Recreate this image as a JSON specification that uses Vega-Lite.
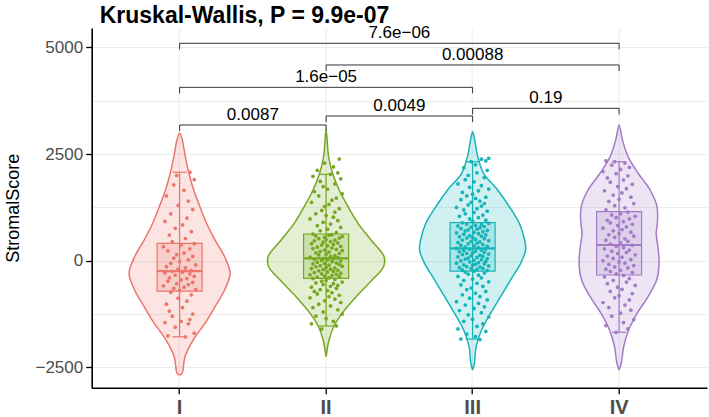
{
"$schema": "https://vega.github.io/schema/vega-lite/v6.json",
"width": 615.3,
"height": 359.7,
"autosize": {"type": "none"},
"padding": {"left": 91.7, "top": 28, "right": 2, "bottom": 29.3},
"title": {"text": "Kruskal-Wallis, P = 9.9e-07", "anchor": "start", "frame": "group", "dx": 8, "fontSize": 23, "fontWeight": "bold", "font": "Liberation Sans", "color": "#000000", "offset": -4},
"config": {
  "view": {"stroke": null},
  "font": "Liberation Sans",
  "axis": {"domainColor": "#000000", "domainWidth": 1.6, "tickColor": "#000000", "tickWidth": 1.3, "tickSize": 6, "gridColor": "#EBEBEB", "gridWidth": 1, "labelColor": "#4D4D4D", "titleColor": "#000000", "labelFont": "Liberation Sans", "titleFont": "Liberation Sans"}
},
"datasets": {
"stats": [
{"g":"I","lo":-1784,"q1":-711,"med":-242,"q3":408,"hi":2075},
{"g":"II","lo":-1531,"q1":-413,"med":56,"q3":626,"hi":2026},
{"g":"III","lo":-1836,"q1":-242,"med":290,"q3":891,"hi":2322},
{"g":"IV","lo":-1679,"q1":-335,"med":368,"q3":1149,"hi":2322}
],
"br": [
{"g1":"I","g2":"II","y":3182,"t":3040,"h":50,"p":"0.0087"},
{"g1":"II","g2":"III","y":3393,"t":3250,"h":50,"p":"0.0049"},
{"g1":"III","g2":"IV","y":3574,"t":3430,"h":50,"p":"0.19"},
{"g1":"I","g2":"III","y":4066,"t":3925,"h":100,"p":"1.6e−05"},
{"g1":"II","g2":"IV","y":4590,"t":4450,"h":100,"p":"0.00088"},
{"g1":"I","g2":"IV","y":5098,"t":4955,"h":150,"p":"7.6e−06"}
],
"vio": [
{"g":"I","v":-2683,"s":0,"k":0},{"g":"I","v":-2641,"s":1.7,"k":1},{"g":"I","v":-2251,"s":3.7,"k":2},{"g":"I","v":-1860,"s":9.2,"k":3},{"g":"I","v":-1469,"s":17.3,"k":4},{"g":"I","v":-1078,"s":24.2,"k":5},{"g":"I","v":-687,"s":30.7,"k":6},{"g":"I","v":-296,"s":34.5,"k":7},{"g":"I","v":94,"s":30.7,"k":8},{"g":"I","v":485,"s":24.2,"k":9},{"g":"I","v":877,"s":18.4,"k":10},{"g":"I","v":1266,"s":13.9,"k":11},{"g":"I","v":1658,"s":9.6,"k":12},{"g":"I","v":2050,"s":6.4,"k":13},{"g":"I","v":2440,"s":3.9,"k":14},{"g":"I","v":2831,"s":1.8,"k":15},{"g":"I","v":2995,"s":0,"k":16},
{"g":"I","v":2831,"s":-1.8,"k":17},{"g":"I","v":2440,"s":-3.9,"k":18},{"g":"I","v":2050,"s":-6.4,"k":19},{"g":"I","v":1658,"s":-9.6,"k":20},{"g":"I","v":1266,"s":-13.9,"k":21},{"g":"I","v":877,"s":-18.4,"k":22},{"g":"I","v":485,"s":-24.2,"k":23},{"g":"I","v":94,"s":-30.7,"k":24},{"g":"I","v":-296,"s":-34.5,"k":25},{"g":"I","v":-687,"s":-30.7,"k":26},{"g":"I","v":-1078,"s":-24.2,"k":27},{"g":"I","v":-1469,"s":-17.3,"k":28},{"g":"I","v":-1860,"s":-9.2,"k":29},{"g":"I","v":-2251,"s":-3.7,"k":30},{"g":"I","v":-2641,"s":-1.7,"k":31},{"g":"I","v":-2683,"s":0,"k":32},
{"g":"II","v":-2251,"s":0,"k":0},{"g":"II","v":-1860,"s":2.0,"k":1},{"g":"II","v":-1548,"s":5.1,"k":2},{"g":"II","v":-1234,"s":10.9,"k":3},{"g":"II","v":-844,"s":20.5,"k":4},{"g":"II","v":-453,"s":31.4,"k":5},{"g":"II","v":-140,"s":39.2,"k":6},{"g":"II","v":94,"s":39.6,"k":7},{"g":"II","v":485,"s":30.7,"k":8},{"g":"II","v":877,"s":21.8,"k":9},{"g":"II","v":1266,"s":15.0,"k":10},{"g":"II","v":1658,"s":8.9,"k":11},{"g":"II","v":2050,"s":4.4,"k":12},{"g":"II","v":2440,"s":1.7,"k":13},{"g":"II","v":2831,"s":0.7,"k":14},{"g":"II","v":3065,"s":0,"k":15},
{"g":"II","v":2831,"s":-0.7,"k":16},{"g":"II","v":2440,"s":-1.7,"k":17},{"g":"II","v":2050,"s":-4.4,"k":18},{"g":"II","v":1658,"s":-8.9,"k":19},{"g":"II","v":1266,"s":-15.0,"k":20},{"g":"II","v":877,"s":-21.8,"k":21},{"g":"II","v":485,"s":-30.7,"k":22},{"g":"II","v":94,"s":-39.6,"k":23},{"g":"II","v":-140,"s":-39.2,"k":24},{"g":"II","v":-453,"s":-31.4,"k":25},{"g":"II","v":-844,"s":-20.5,"k":26},{"g":"II","v":-1234,"s":-10.9,"k":27},{"g":"II","v":-1548,"s":-5.1,"k":28},{"g":"II","v":-1860,"s":-2.0,"k":29},{"g":"II","v":-2251,"s":0,"k":30},
{"g":"III","v":-2563,"s":0,"k":0},{"g":"III","v":-2407,"s":1.2,"k":1},{"g":"III","v":-2017,"s":2.4,"k":2},{"g":"III","v":-1625,"s":6.1,"k":3},{"g":"III","v":-1234,"s":12.3,"k":4},{"g":"III","v":-844,"s":19.1,"k":5},{"g":"III","v":-453,"s":25.9,"k":6},{"g":"III","v":-62,"s":32.8,"k":7},{"g":"III","v":251,"s":36.2,"k":8},{"g":"III","v":485,"s":35.5,"k":9},{"g":"III","v":877,"s":31.9,"k":10},{"g":"III","v":1266,"s":25.1,"k":11},{"g":"III","v":1658,"s":17.1,"k":12},{"g":"III","v":2050,"s":7.5,"k":13},{"g":"III","v":2440,"s":3.5,"k":14},{"g":"III","v":2831,"s":1.4,"k":15},{"g":"III","v":3026,"s":0,"k":16},
{"g":"III","v":2831,"s":-1.4,"k":17},{"g":"III","v":2440,"s":-3.5,"k":18},{"g":"III","v":2050,"s":-7.5,"k":19},{"g":"III","v":1658,"s":-17.1,"k":20},{"g":"III","v":1266,"s":-25.1,"k":21},{"g":"III","v":877,"s":-31.9,"k":22},{"g":"III","v":485,"s":-35.5,"k":23},{"g":"III","v":251,"s":-36.2,"k":24},{"g":"III","v":-62,"s":-32.8,"k":25},{"g":"III","v":-453,"s":-25.9,"k":26},{"g":"III","v":-844,"s":-19.1,"k":27},{"g":"III","v":-1234,"s":-12.3,"k":28},{"g":"III","v":-1625,"s":-6.1,"k":29},{"g":"III","v":-2017,"s":-2.4,"k":30},{"g":"III","v":-2407,"s":-1.2,"k":31},{"g":"III","v":-2563,"s":0,"k":32},
{"g":"IV","v":-2563,"s":0,"k":0},{"g":"IV","v":-2407,"s":1.5,"k":1},{"g":"IV","v":-2017,"s":3.1,"k":2},{"g":"IV","v":-1625,"s":6.5,"k":3},{"g":"IV","v":-1234,"s":12.3,"k":4},{"g":"IV","v":-844,"s":19.8,"k":5},{"g":"IV","v":-453,"s":25.6,"k":6},{"g":"IV","v":-62,"s":27.3,"k":7},{"g":"IV","v":328,"s":26.5,"k":8},{"g":"IV","v":642,"s":25.3,"k":9},{"g":"IV","v":877,"s":26.1,"k":10},{"g":"IV","v":1266,"s":25.9,"k":11},{"g":"IV","v":1658,"s":21.2,"k":12},{"g":"IV","v":2050,"s":13.0,"k":13},{"g":"IV","v":2440,"s":6.1,"k":14},{"g":"IV","v":2831,"s":2.3,"k":15},{"g":"IV","v":3183,"s":0,"k":16},
{"g":"IV","v":2831,"s":-2.3,"k":17},{"g":"IV","v":2440,"s":-6.1,"k":18},{"g":"IV","v":2050,"s":-13.0,"k":19},{"g":"IV","v":1658,"s":-21.2,"k":20},{"g":"IV","v":1266,"s":-25.9,"k":21},{"g":"IV","v":877,"s":-26.1,"k":22},{"g":"IV","v":642,"s":-25.3,"k":23},{"g":"IV","v":328,"s":-26.5,"k":24},{"g":"IV","v":-62,"s":-27.3,"k":25},{"g":"IV","v":-453,"s":-25.6,"k":26},{"g":"IV","v":-844,"s":-19.8,"k":27},{"g":"IV","v":-1234,"s":-12.3,"k":28},{"g":"IV","v":-1625,"s":-6.5,"k":29},{"g":"IV","v":-2017,"s":-3.1,"k":30},{"g":"IV","v":-2407,"s":-1.5,"k":31},{"g":"IV","v":-2563,"s":0,"k":32}
],
"pts": [
{"g":"I","v":-1784,"j":4},{"g":"I","v":-1760,"j":-8},{"g":"I","v":-1700,"j":10},{"g":"I","v":-1560,"j":-3},{"g":"I","v":-1480,"j":6},{"g":"I","v":-1450,"j":-10},{"g":"I","v":-1420,"j":1},{"g":"I","v":-1380,"j":7},{"g":"I","v":-1300,"j":-5},{"g":"I","v":-1250,"j":9},
{"g":"I","v":-1180,"j":-7},{"g":"I","v":-1100,"j":2},{"g":"I","v":-1020,"j":-9},{"g":"I","v":-950,"j":5},{"g":"I","v":-880,"j":-1},{"g":"I","v":-800,"j":8},{"g":"I","v":-740,"j":-6},{"g":"I","v":-700,"j":0},{"g":"I","v":-680,"j":11},{"g":"I","v":-650,"j":-4},
{"g":"I","v":-620,"j":3},{"g":"I","v":-590,"j":-11},{"g":"I","v":-560,"j":6},{"g":"I","v":-540,"j":-2},{"g":"I","v":-510,"j":9},{"g":"I","v":-480,"j":-8},{"g":"I","v":-450,"j":1},{"g":"I","v":-420,"j":5},{"g":"I","v":-400,"j":-7},{"g":"I","v":-370,"j":10},
{"g":"I","v":-340,"j":-3},{"g":"I","v":-310,"j":7},{"g":"I","v":-290,"j":-10},{"g":"I","v":-270,"j":2},{"g":"I","v":-250,"j":-5},{"g":"I","v":-230,"j":8},{"g":"I","v":-200,"j":-1},{"g":"I","v":-170,"j":4},{"g":"I","v":-140,"j":-9},{"g":"I","v":-100,"j":11},
{"g":"I","v":-60,"j":-6},{"g":"I","v":-20,"j":0},{"g":"I","v":20,"j":6},{"g":"I","v":60,"j":-4},{"g":"I","v":100,"j":9},{"g":"I","v":140,"j":-2},{"g":"I","v":180,"j":3},{"g":"I","v":230,"j":-8},{"g":"I","v":280,"j":7},{"g":"I","v":330,"j":-11},
{"g":"I","v":370,"j":1},{"g":"I","v":400,"j":10},{"g":"I","v":450,"j":-5},{"g":"I","v":520,"j":4},{"g":"I","v":600,"j":-7},{"g":"I","v":680,"j":8},{"g":"I","v":760,"j":-3},{"g":"I","v":840,"j":2},{"g":"I","v":920,"j":-10},{"g":"I","v":1000,"j":5},
{"g":"I","v":1100,"j":-6},{"g":"I","v":1200,"j":9},{"g":"I","v":1300,"j":-1},{"g":"I","v":1400,"j":6},{"g":"I","v":1520,"j":-9},{"g":"I","v":1650,"j":3},{"g":"I","v":1780,"j":-4},{"g":"I","v":1900,"j":10},{"g":"I","v":2000,"j":-2},{"g":"I","v":2075,"j":7},
{"g":"II","v":-1600,"j":-3},{"g":"II","v":-1531,"j":7},{"g":"II","v":-1480,"j":-10},{"g":"II","v":-1420,"j":5},{"g":"II","v":-1360,"j":0},{"g":"II","v":-1300,"j":-7},{"g":"II","v":-1250,"j":11},{"g":"II","v":-1200,"j":-2},{"g":"II","v":-1150,"j":8},{"g":"II","v":-1100,"j":-9},
{"g":"II","v":-1060,"j":3},{"g":"II","v":-1020,"j":-5},{"g":"II","v":-980,"j":10},{"g":"II","v":-940,"j":-1},{"g":"II","v":-900,"j":6},{"g":"II","v":-870,"j":-11},{"g":"II","v":-840,"j":2},{"g":"II","v":-810,"j":9},{"g":"II","v":-780,"j":-6},{"g":"II","v":-750,"j":4},
{"g":"II","v":-720,"j":-8},{"g":"II","v":-700,"j":1},{"g":"II","v":-680,"j":-4},{"g":"II","v":-650,"j":7},{"g":"II","v":-620,"j":-10},{"g":"II","v":-600,"j":3},{"g":"II","v":-580,"j":8},{"g":"II","v":-560,"j":-2},{"g":"II","v":-540,"j":5},{"g":"II","v":-520,"j":-7},
{"g":"II","v":-500,"j":11},{"g":"II","v":-480,"j":-3},{"g":"II","v":-460,"j":0},{"g":"II","v":-440,"j":6},{"g":"II","v":-420,"j":-9},{"g":"II","v":-400,"j":2},{"g":"II","v":-387,"j":-6},{"g":"II","v":-373,"j":9},{"g":"II","v":-360,"j":-1},{"g":"II","v":-346,"j":4},
{"g":"II","v":-333,"j":-11},{"g":"II","v":-319,"j":7},{"g":"II","v":-306,"j":-3},{"g":"II","v":-292,"j":10},{"g":"II","v":-279,"j":-8},{"g":"II","v":-265,"j":1},{"g":"II","v":-252,"j":5},{"g":"II","v":-238,"j":-5},{"g":"II","v":-225,"j":8},{"g":"II","v":-211,"j":-2},
{"g":"II","v":-198,"j":3},{"g":"II","v":-184,"j":-10},{"g":"II","v":-171,"j":6},{"g":"II","v":-157,"j":0},{"g":"II","v":-144,"j":-7},{"g":"II","v":-130,"j":11},{"g":"II","v":-117,"j":-4},{"g":"II","v":-103,"j":2},{"g":"II","v":-90,"j":9},{"g":"II","v":-76,"j":-9},
{"g":"II","v":-63,"j":-1},{"g":"II","v":-49,"j":7},{"g":"II","v":-36,"j":-6},{"g":"II","v":-22,"j":4},{"g":"II","v":-9,"j":10},{"g":"II","v":5,"j":-3},{"g":"II","v":18,"j":1},{"g":"II","v":32,"j":-8},{"g":"II","v":45,"j":5},{"g":"II","v":55,"j":-2},
{"g":"II","v":70,"j":8},{"g":"II","v":86,"j":-11},{"g":"II","v":103,"j":3},{"g":"II","v":119,"j":6},{"g":"II","v":136,"j":-5},{"g":"II","v":152,"j":0},{"g":"II","v":169,"j":9},{"g":"II","v":185,"j":-7},{"g":"II","v":202,"j":2},{"g":"II","v":218,"j":-4},
{"g":"II","v":235,"j":11},{"g":"II","v":251,"j":-1},{"g":"II","v":268,"j":7},{"g":"II","v":284,"j":-9},{"g":"II","v":301,"j":4},{"g":"II","v":317,"j":-6},{"g":"II","v":334,"j":10},{"g":"II","v":350,"j":1},{"g":"II","v":367,"j":-3},{"g":"II","v":383,"j":5},
{"g":"II","v":400,"j":-10},{"g":"II","v":416,"j":8},{"g":"II","v":433,"j":-2},{"g":"II","v":449,"j":3},{"g":"II","v":466,"j":-8},{"g":"II","v":482,"j":6},{"g":"II","v":499,"j":0},{"g":"II","v":515,"j":-5},{"g":"II","v":532,"j":9},{"g":"II","v":548,"j":-1},
{"g":"II","v":565,"j":11},{"g":"II","v":581,"j":-7},{"g":"II","v":598,"j":2},{"g":"II","v":614,"j":4},{"g":"II","v":626,"j":-9},{"g":"II","v":660,"j":7},{"g":"II","v":700,"j":-4},{"g":"II","v":740,"j":1},{"g":"II","v":780,"j":10},{"g":"II","v":820,"j":-6},
{"g":"II","v":860,"j":3},{"g":"II","v":900,"j":-2},{"g":"II","v":940,"j":8},{"g":"II","v":980,"j":-11},{"g":"II","v":1020,"j":5},{"g":"II","v":1060,"j":0},{"g":"II","v":1100,"j":-7},{"g":"II","v":1140,"j":6},{"g":"II","v":1180,"j":-3},{"g":"II","v":1220,"j":9},
{"g":"II","v":1270,"j":-1},{"g":"II","v":1320,"j":2},{"g":"II","v":1370,"j":-10},{"g":"II","v":1420,"j":4},{"g":"II","v":1470,"j":7},{"g":"II","v":1520,"j":-5},{"g":"II","v":1570,"j":11},{"g":"II","v":1620,"j":-8},{"g":"II","v":1680,"j":1},{"g":"II","v":1740,"j":-2},
{"g":"II","v":1800,"j":6},{"g":"II","v":1860,"j":-4},{"g":"II","v":1920,"j":10},{"g":"II","v":1980,"j":-9},{"g":"II","v":2026,"j":3},{"g":"II","v":2060,"j":8},{"g":"II","v":2120,"j":-6},{"g":"II","v":2200,"j":5},{"g":"II","v":2290,"j":-1},{"g":"II","v":2385,"j":9},
{"g":"III","v":-1850,"j":5},{"g":"III","v":-1836,"j":-8},{"g":"III","v":-1780,"j":2},{"g":"III","v":-1720,"j":-4},{"g":"III","v":-1660,"j":9},{"g":"III","v":-1600,"j":-10},{"g":"III","v":-1540,"j":3},{"g":"III","v":-1480,"j":7},{"g":"III","v":-1420,"j":-6},{"g":"III","v":-1370,"j":0},
{"g":"III","v":-1320,"j":11},{"g":"III","v":-1270,"j":-3},{"g":"III","v":-1220,"j":6},{"g":"III","v":-1170,"j":-9},{"g":"III","v":-1120,"j":1},{"g":"III","v":-1080,"j":8},{"g":"III","v":-1040,"j":-5},{"g":"III","v":-1000,"j":4},{"g":"III","v":-960,"j":-11},{"g":"III","v":-920,"j":10},
{"g":"III","v":-880,"j":-2},{"g":"III","v":-840,"j":5},{"g":"III","v":-800,"j":-7},{"g":"III","v":-760,"j":2},{"g":"III","v":-720,"j":9},{"g":"III","v":-680,"j":-4},{"g":"III","v":-640,"j":-1},{"g":"III","v":-600,"j":7},{"g":"III","v":-565,"j":-8},{"g":"III","v":-530,"j":3},
{"g":"III","v":-495,"j":11},{"g":"III","v":-460,"j":-6},{"g":"III","v":-430,"j":0},{"g":"III","v":-400,"j":6},{"g":"III","v":-370,"j":-10},{"g":"III","v":-340,"j":4},{"g":"III","v":-315,"j":-3},{"g":"III","v":-290,"j":8},{"g":"III","v":-265,"j":-5},{"g":"III","v":-245,"j":1},
{"g":"III","v":-230,"j":10},{"g":"III","v":-217,"j":-7},{"g":"III","v":-204,"j":3},{"g":"III","v":-190,"j":-1},{"g":"III","v":-177,"j":7},{"g":"III","v":-164,"j":-9},{"g":"III","v":-150,"j":5},{"g":"III","v":-137,"j":-4},{"g":"III","v":-124,"j":11},{"g":"III","v":-110,"j":0},
{"g":"III","v":-97,"j":-6},{"g":"III","v":-84,"j":2},{"g":"III","v":-70,"j":8},{"g":"III","v":-57,"j":-11},{"g":"III","v":-44,"j":4},{"g":"III","v":-30,"j":-2},{"g":"III","v":-17,"j":9},{"g":"III","v":-4,"j":-8},{"g":"III","v":10,"j":1},{"g":"III","v":23,"j":6},
{"g":"III","v":36,"j":-5},{"g":"III","v":50,"j":10},{"g":"III","v":63,"j":-3},{"g":"III","v":76,"j":3},{"g":"III","v":90,"j":-10},{"g":"III","v":103,"j":7},{"g":"III","v":116,"j":-1},{"g":"III","v":130,"j":5},{"g":"III","v":143,"j":-7},{"g":"III","v":156,"j":11},
{"g":"III","v":170,"j":-4},{"g":"III","v":183,"j":0},{"g":"III","v":196,"j":8},{"g":"III","v":210,"j":-9},{"g":"III","v":223,"j":2},{"g":"III","v":236,"j":-6},{"g":"III","v":250,"j":6},{"g":"III","v":263,"j":-2},{"g":"III","v":276,"j":9},{"g":"III","v":288,"j":-11},
{"g":"III","v":305,"j":4},{"g":"III","v":320,"j":-5},{"g":"III","v":335,"j":10},{"g":"III","v":350,"j":1},{"g":"III","v":365,"j":-8},{"g":"III","v":380,"j":7},{"g":"III","v":395,"j":-3},{"g":"III","v":410,"j":3},{"g":"III","v":425,"j":-10},{"g":"III","v":440,"j":5},
{"g":"III","v":455,"j":-1},{"g":"III","v":470,"j":11},{"g":"III","v":485,"j":-7},{"g":"III","v":500,"j":2},{"g":"III","v":515,"j":8},{"g":"III","v":530,"j":-4},{"g":"III","v":545,"j":0},{"g":"III","v":560,"j":-9},{"g":"III","v":575,"j":6},{"g":"III","v":590,"j":-2},
{"g":"III","v":605,"j":9},{"g":"III","v":620,"j":-6},{"g":"III","v":635,"j":4},{"g":"III","v":650,"j":-11},{"g":"III","v":665,"j":1},{"g":"III","v":680,"j":7},{"g":"III","v":695,"j":-5},{"g":"III","v":710,"j":10},{"g":"III","v":725,"j":-3},{"g":"III","v":740,"j":3},
{"g":"III","v":755,"j":-8},{"g":"III","v":770,"j":5},{"g":"III","v":785,"j":-1},{"g":"III","v":800,"j":8},{"g":"III","v":815,"j":-10},{"g":"III","v":830,"j":2},{"g":"III","v":845,"j":6},{"g":"III","v":860,"j":-4},{"g":"III","v":875,"j":11},{"g":"III","v":890,"j":-7},
{"g":"III","v":920,"j":0},{"g":"III","v":950,"j":9},{"g":"III","v":980,"j":-2},{"g":"III","v":1010,"j":4},{"g":"III","v":1040,"j":-9},{"g":"III","v":1070,"j":7},{"g":"III","v":1100,"j":-5},{"g":"III","v":1130,"j":1},{"g":"III","v":1160,"j":10},{"g":"III","v":1190,"j":-6},
{"g":"III","v":1220,"j":3},{"g":"III","v":1250,"j":-11},{"g":"III","v":1280,"j":6},{"g":"III","v":1310,"j":-3},{"g":"III","v":1340,"j":8},{"g":"III","v":1370,"j":-1},{"g":"III","v":1400,"j":5},{"g":"III","v":1430,"j":-8},{"g":"III","v":1460,"j":2},{"g":"III","v":1490,"j":9},
{"g":"III","v":1520,"j":-4},{"g":"III","v":1560,"j":0},{"g":"III","v":1600,"j":-7},{"g":"III","v":1640,"j":4},{"g":"III","v":1680,"j":11},{"g":"III","v":1720,"j":-2},{"g":"III","v":1760,"j":6},{"g":"III","v":1800,"j":-10},{"g":"III","v":1850,"j":1},{"g":"III","v":1900,"j":-5},
{"g":"III","v":1950,"j":8},{"g":"III","v":2000,"j":-3},{"g":"III","v":2060,"j":3},{"g":"III","v":2120,"j":10},{"g":"III","v":2180,"j":-6},{"g":"III","v":2250,"j":2},{"g":"III","v":2322,"j":-1},{"g":"III","v":2340,"j":9},{"g":"III","v":2380,"j":6},{"g":"III","v":2400,"j":11},
{"g":"IV","v":-1679,"j":-2},{"g":"IV","v":-1600,"j":6},{"g":"IV","v":-1520,"j":-9},{"g":"IV","v":-1450,"j":3},{"g":"IV","v":-1380,"j":10},{"g":"IV","v":-1300,"j":-5},{"g":"IV","v":-1230,"j":1},{"g":"IV","v":-1160,"j":8},{"g":"IV","v":-1100,"j":-7},{"g":"IV","v":-1040,"j":4},
{"g":"IV","v":-980,"j":-11},{"g":"IV","v":-920,"j":7},{"g":"IV","v":-870,"j":-3},{"g":"IV","v":-820,"j":0},{"g":"IV","v":-770,"j":9},{"g":"IV","v":-720,"j":-6},{"g":"IV","v":-670,"j":2},{"g":"IV","v":-620,"j":-1},{"g":"IV","v":-580,"j":11},{"g":"IV","v":-540,"j":-8},
{"g":"IV","v":-500,"j":5},{"g":"IV","v":-460,"j":-4},{"g":"IV","v":-420,"j":7},{"g":"IV","v":-380,"j":-10},{"g":"IV","v":-345,"j":3},{"g":"IV","v":-310,"j":-2},{"g":"IV","v":-282,"j":9},{"g":"IV","v":-254,"j":-6},{"g":"IV","v":-226,"j":1},{"g":"IV","v":-198,"j":-9},
{"g":"IV","v":-170,"j":6},{"g":"IV","v":-142,"j":-3},{"g":"IV","v":-114,"j":10},{"g":"IV","v":-86,"j":-7},{"g":"IV","v":-58,"j":4},{"g":"IV","v":-30,"j":0},{"g":"IV","v":-2,"j":-11},{"g":"IV","v":26,"j":8},{"g":"IV","v":54,"j":-4},{"g":"IV","v":82,"j":2},
{"g":"IV","v":110,"j":-8},{"g":"IV","v":138,"j":11},{"g":"IV","v":166,"j":-1},{"g":"IV","v":194,"j":5},{"g":"IV","v":222,"j":-5},{"g":"IV","v":250,"j":7},{"g":"IV","v":278,"j":-10},{"g":"IV","v":306,"j":3},{"g":"IV","v":334,"j":-2},{"g":"IV","v":360,"j":9},
{"g":"IV","v":390,"j":-6},{"g":"IV","v":421,"j":1},{"g":"IV","v":452,"j":6},{"g":"IV","v":483,"j":-9},{"g":"IV","v":514,"j":4},{"g":"IV","v":545,"j":-3},{"g":"IV","v":576,"j":10},{"g":"IV","v":607,"j":-7},{"g":"IV","v":638,"j":0},{"g":"IV","v":669,"j":8},
{"g":"IV","v":700,"j":-4},{"g":"IV","v":731,"j":2},{"g":"IV","v":762,"j":-11},{"g":"IV","v":793,"j":5},{"g":"IV","v":824,"j":-1},{"g":"IV","v":855,"j":9},{"g":"IV","v":886,"j":-6},{"g":"IV","v":917,"j":3},{"g":"IV","v":948,"j":-8},{"g":"IV","v":979,"j":7},
{"g":"IV","v":1010,"j":-2},{"g":"IV","v":1041,"j":11},{"g":"IV","v":1072,"j":-5},{"g":"IV","v":1103,"j":1},{"g":"IV","v":1140,"j":6},{"g":"IV","v":1190,"j":-9},{"g":"IV","v":1240,"j":4},{"g":"IV","v":1290,"j":-3},{"g":"IV","v":1340,"j":10},{"g":"IV","v":1390,"j":-7},
{"g":"IV","v":1440,"j":0},{"g":"IV","v":1490,"j":8},{"g":"IV","v":1540,"j":-4},{"g":"IV","v":1590,"j":2},{"g":"IV","v":1640,"j":-10},{"g":"IV","v":1690,"j":5},{"g":"IV","v":1740,"j":-1},{"g":"IV","v":1790,"j":9},{"g":"IV","v":1840,"j":-6},{"g":"IV","v":1890,"j":3},
{"g":"IV","v":1940,"j":-8},{"g":"IV","v":1990,"j":6},{"g":"IV","v":2040,"j":-2},{"g":"IV","v":2090,"j":-11},{"g":"IV","v":2140,"j":1},{"g":"IV","v":2190,"j":7},{"g":"IV","v":2240,"j":-5},{"g":"IV","v":2290,"j":4},{"g":"IV","v":2322,"j":-3},{"g":"IV","v":2340,"j":-9}
]
},
"layer": [
{
  "data": {"name": "vio"},
  "mark": {"type": "line", "interpolate": "catmull-rom", "strokeWidth": 1.5, "fillOpacity": 0.2},
  "encoding": {
    "x": {"field": "g", "type": "nominal", "title": null, "scale": {"type": "band", "domain": ["I","II","III","IV"], "paddingInner": 0, "paddingOuter": 0.1},
          "axis": {"labelFontSize": 20, "labelFontWeight": "bold", "labelAngle": 0, "labelPadding": 4, "grid": true}},
    "xOffset": {"field": "s", "type": "quantitative", "scale": {"domain": [-50, 50]}},
    "y": {"field": "v", "type": "quantitative", "title": "StromalScore", "scale": {"domain": [-2978, 5457], "nice": false, "zero": false},
          "axis": {"values": [-2500, -1250, 0, 1250, 2500, 3750, 5000], "format": "d", "labelExpr": "datum.value % 2500 === 0 ? datum.label : ''", "labelFontSize": 17, "labelPadding": 3, "tickOpacity": {"condition": {"test": "datum.value % 2500 !== 0", "value": 0}, "value": 1}, "titleFontSize": 18, "titleFontWeight": "normal", "titlePadding": 12, "grid": true}},
    "order": {"field": "k", "type": "quantitative"},
    "stroke": {"field": "g", "type": "nominal", "legend": null, "scale": {"domain": ["I","II","III","IV"], "range": ["#EC766B","#75A81F","#15B4B9","#A47BC7"]}},
    "fill": {"field": "g", "type": "nominal", "legend": null, "scale": {"domain": ["I","II","III","IV"], "range": ["#EC766B","#75A81F","#15B4B9","#A47BC7"]}}
  }
},
{
  "data": {"name": "stats"},
  "mark": {"type": "rule", "strokeWidth": 1.2},
  "encoding": {
    "x": {"field": "g", "type": "nominal", "title": null},
    "y": {"field": "lo", "type": "quantitative", "title": "StromalScore"},
    "y2": {"field": "hi"},
    "color": {"field": "g", "type": "nominal", "legend": null, "scale": {"domain": ["I","II","III","IV"], "range": ["#EC766B","#75A81F","#15B4B9","#A47BC7"]}}
  }
},
{
  "data": {"name": "stats"},
  "mark": {"type": "bar", "size": 45, "fillOpacity": 0.2, "strokeWidth": 1.2},
  "encoding": {
    "x": {"field": "g", "type": "nominal", "title": null},
    "y": {"field": "q1", "type": "quantitative", "title": "StromalScore"},
    "y2": {"field": "q3"},
    "fill": {"field": "g", "type": "nominal", "legend": null, "scale": {"domain": ["I","II","III","IV"], "range": ["#EC766B","#75A81F","#15B4B9","#A47BC7"]}},
    "stroke": {"field": "g", "type": "nominal", "legend": null, "scale": {"domain": ["I","II","III","IV"], "range": ["#EC766B","#75A81F","#15B4B9","#A47BC7"]}}
  }
},
{
  "data": {"name": "stats"},
  "mark": {"type": "tick", "size": 45, "thickness": 2.2, "opacity": 1},
  "encoding": {
    "x": {"field": "g", "type": "nominal", "title": null},
    "y": {"field": "med", "type": "quantitative", "title": "StromalScore"},
    "color": {"field": "g", "type": "nominal", "legend": null, "scale": {"domain": ["I","II","III","IV"], "range": ["#EC766B","#75A81F","#15B4B9","#A47BC7"]}}
  }
},
{
  "data": {"name": "stats"},
  "mark": {"type": "tick", "size": 14, "thickness": 1.2, "opacity": 1},
  "encoding": {
    "x": {"field": "g", "type": "nominal", "title": null},
    "y": {"field": "lo", "type": "quantitative", "title": "StromalScore"},
    "color": {"field": "g", "type": "nominal", "legend": null, "scale": {"domain": ["I","II","III","IV"], "range": ["#EC766B","#75A81F","#15B4B9","#A47BC7"]}}
  }
},
{
  "data": {"name": "stats"},
  "mark": {"type": "tick", "size": 14, "thickness": 1.2, "opacity": 1},
  "encoding": {
    "x": {"field": "g", "type": "nominal", "title": null},
    "y": {"field": "hi", "type": "quantitative", "title": "StromalScore"},
    "color": {"field": "g", "type": "nominal", "legend": null, "scale": {"domain": ["I","II","III","IV"], "range": ["#EC766B","#75A81F","#15B4B9","#A47BC7"]}}
  }
},
{
  "data": {"name": "pts"},
  "mark": {"type": "circle", "size": 14, "opacity": 1},
  "encoding": {
    "x": {"field": "g", "type": "nominal", "title": null},
    "xOffset": {"field": "j", "type": "quantitative", "scale": {"domain": [-50, 50]}},
    "y": {"field": "v", "type": "quantitative", "title": "StromalScore"},
    "color": {"field": "g", "type": "nominal", "legend": null, "scale": {"domain": ["I","II","III","IV"], "range": ["#EC766B","#75A81F","#15B4B9","#A47BC7"]}}
  }
},
{
  "data": {"name": "br"},
  "mark": {"type": "rule", "strokeWidth": 1, "color": "#333333"},
  "encoding": {
    "x": {"field": "g1", "type": "nominal", "title": null},
    "x2": {"field": "g2"},
    "y": {"field": "y", "type": "quantitative", "title": "StromalScore"}
  }
},
{
  "data": {"name": "br"},
  "mark": {"type": "rule", "strokeWidth": 1, "color": "#333333"},
  "encoding": {
    "x": {"field": "g1", "type": "nominal", "title": null},
    "y": {"field": "y", "type": "quantitative", "title": "StromalScore"},
    "y2": {"field": "t"}
  }
},
{
  "data": {"name": "br"},
  "mark": {"type": "rule", "strokeWidth": 1, "color": "#333333"},
  "encoding": {
    "x": {"field": "g2", "type": "nominal", "title": null},
    "y": {"field": "y", "type": "quantitative", "title": "StromalScore"},
    "y2": {"field": "t"}
  }
},
{
  "data": {"name": "br"},
  "mark": {"type": "text", "fontSize": 17, "dy": -5, "baseline": "alphabetic", "color": "#000000", "font": "Liberation Sans"},
  "encoding": {
    "x": {"field": "g1", "type": "nominal", "title": null},
    "xOffset": {"field": "h", "type": "quantitative", "scale": {"domain": [-50, 50]}},
    "y": {"field": "y", "type": "quantitative", "title": "StromalScore"},
    "text": {"field": "p"}
  }
}
]
}
